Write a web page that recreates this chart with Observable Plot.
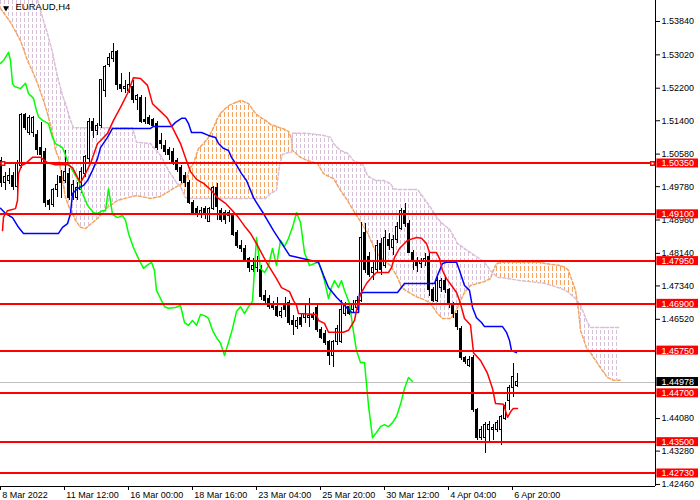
<!DOCTYPE html>
<html>
<head>
<meta charset="utf-8">
<script src="https://cdn.jsdelivr.net/npm/d3@7"></script>
<script src="https://cdn.jsdelivr.net/npm/@observablehq/plot@0.6"></script>
<style>
  body { margin: 0; background: #fff; }
</style>
</head>
<body>
<div id="chart"></div>
<script>
// EURAUD H4 - bar index on x (one bar = 4h), price on y

// candles: [open, high, low, close]
const ohlc = [
  [1.5042,1.5050,1.4976,1.4986],[1.4986,1.5013,1.4969,1.5001],[1.4993,1.5023,1.4983,1.5005],[1.5003,1.5013,1.4969,1.4976],
  [1.4976,1.5042,1.4951,1.5035],[1.5030,1.5158,1.5023,1.5153],[1.5153,1.5158,1.5116,1.5123],[1.5111,1.5153,1.5104,1.5148],
  [1.5109,1.5151,1.5099,1.5146],[1.5106,1.5116,1.5055,1.5067],[1.5072,1.5136,1.5035,1.5055],[1.5062,1.5072,1.4927,1.4937],
  [1.4942,1.4946,1.4919,1.4932],[1.4932,1.4974,1.4927,1.4969],[1.4969,1.5005,1.4951,1.4983],[1.5001,1.5018,1.4949,1.4986],
  [1.4993,1.5067,1.4986,1.5013],[1.5010,1.5023,1.4944,1.4951],[1.4954,1.4993,1.4944,1.4981],[1.4951,1.4988,1.4944,1.4974],
  [1.4969,1.5025,1.4961,1.5013],[1.5010,1.5055,1.5001,1.5050],[1.5047,1.5146,1.5037,1.5136],[1.5136,1.5146,1.5096,1.5116],
  [1.5116,1.5133,1.5104,1.5126],[1.5128,1.5241,1.5121,1.5239],[1.5214,1.5276,1.5197,1.5271],[1.5276,1.5305,1.5271,1.5295],
  [1.5293,1.5330,1.5283,1.5308],[1.5308,1.5313,1.5214,1.5227],[1.5229,1.5256,1.5209,1.5219],[1.5217,1.5239,1.5207,1.5222],
  [1.5214,1.5259,1.5207,1.5229],[1.5222,1.5239,1.5182,1.5190],[1.5190,1.5205,1.5165,1.5200],[1.5197,1.5202,1.5133,1.5138],
  [1.5143,1.5197,1.5131,1.5136],[1.5146,1.5153,1.5128,1.5133],[1.5141,1.5146,1.5123,1.5128],[1.5133,1.5138,1.5067,1.5074],
  [1.5091,1.5109,1.5069,1.5084],[1.5079,1.5091,1.5055,1.5062],[1.5067,1.5074,1.5042,1.5055],[1.5062,1.5072,1.5030,1.5037],
  [1.5040,1.5047,1.5013,1.5018],[1.5023,1.5030,1.4986,1.4993],[1.5005,1.5013,1.4976,1.4986],[1.4988,1.4993,1.4934,1.4939],
  [1.4939,1.4944,1.4912,1.4914],[1.4922,1.4929,1.4902,1.4914],[1.4912,1.4927,1.4900,1.4919],[1.4922,1.4929,1.4897,1.4910],
  [1.4892,1.4927,1.4890,1.4922],[1.4924,1.4978,1.4919,1.4974],[1.4974,1.4986,1.4895,1.4927],[1.4919,1.4924,1.4890,1.4895],
  [1.4914,1.4919,1.4885,1.4895],[1.4914,1.4919,1.4890,1.4905],[1.4905,1.4912,1.4855,1.4860],[1.4863,1.4870,1.4826,1.4831],
  [1.4831,1.4846,1.4816,1.4826],[1.4826,1.4833,1.4792,1.4797],[1.4799,1.4804,1.4767,1.4777],[1.4774,1.4801,1.4767,1.4782],
  [1.4777,1.4806,1.4767,1.4794],[1.4772,1.4784,1.4698,1.4706],[1.4710,1.4723,1.4691,1.4698],[1.4703,1.4710,1.4676,1.4681],
  [1.4686,1.4696,1.4674,1.4679],[1.4681,1.4705,1.4656,1.4661],[1.4661,1.4681,1.4654,1.4669],[1.4686,1.4705,1.4656,1.4674],
  [1.4691,1.4698,1.4637,1.4642],[1.4649,1.4661,1.4612,1.4637],[1.4632,1.4656,1.4627,1.4649],[1.4656,1.4666,1.4632,1.4637],
  [1.4654,1.4686,1.4642,1.4666],[1.4654,1.4703,1.4632,1.4661],[1.4661,1.4669,1.4649,1.4654],[1.4679,1.4686,1.4620,1.4625],
  [1.4625,1.4632,1.4602,1.4607],[1.4617,1.4625,1.4588,1.4593],[1.4595,1.4600,1.4538,1.4563],[1.4563,1.4600,1.4534,1.4595],
  [1.4595,1.4637,1.4588,1.4629],[1.4595,1.4698,1.4593,1.4674],[1.4666,1.4693,1.4659,1.4686],[1.4681,1.4688,1.4661,1.4666],
  [1.4674,1.4698,1.4669,1.4686],[1.4679,1.4708,1.4674,1.4698],[1.4698,1.4890,1.4693,1.4853],[1.4865,1.4887,1.4765,1.4772],
  [1.4804,1.4816,1.4755,1.4760],[1.4765,1.4792,1.4747,1.4779],[1.4772,1.4846,1.4767,1.4833],[1.4838,1.4851,1.4760,1.4772],
  [1.4784,1.4870,1.4777,1.4851],[1.4846,1.4863,1.4821,1.4831],[1.4828,1.4858,1.4809,1.4846],[1.4846,1.4890,1.4838,1.4878],
  [1.4875,1.4924,1.4870,1.4919],[1.4919,1.4937,1.4878,1.4887],[1.4887,1.4895,1.4814,1.4816],[1.4816,1.4821,1.4772,1.4792],
  [1.4792,1.4804,1.4767,1.4784],[1.4787,1.4801,1.4777,1.4792],[1.4792,1.4814,1.4782,1.4801],[1.4806,1.4816,1.4708,1.4723],
  [1.4723,1.4730,1.4693,1.4698],[1.4698,1.4755,1.4693,1.4747],[1.4728,1.4752,1.4718,1.4747],[1.4747,1.4755,1.4715,1.4723],
  [1.4723,1.4728,1.4679,1.4686],[1.4686,1.4693,1.4654,1.4666],[1.4666,1.4674,1.4625,1.4632],[1.4629,1.4634,1.4551,1.4556],
  [1.4556,1.4561,1.4541,1.4546],[1.4538,1.4561,1.4534,1.4553],[1.4556,1.4563,1.4423,1.4428],[1.4428,1.4433,1.4354,1.4359],
  [1.4359,1.4388,1.4354,1.4379],[1.4359,1.4398,1.4322,1.4391],[1.4379,1.4401,1.4352,1.4393],[1.4381,1.4393,1.4354,1.4386],
  [1.4379,1.4403,1.4374,1.4396],[1.4379,1.4415,1.4342,1.4411],[1.4408,1.4447,1.4403,1.4440],[1.4452,1.4489,1.4428,1.4484],
  [1.4482,1.4543,1.4460,1.4509],[1.4489,1.4519,1.4484,1.44978]
];

// ichimoku lines: [bar, price]
const tenkan = [
  [0.5,1.4870],[0.75,1.4903],[1.75,1.4919],[3.75,1.4924],[4.25,1.4944],[4.5,1.5010],[5.25,1.5030],[6.25,1.5035],[8,1.5050],[10,1.5050],
  [11.75,1.5037],[13.75,1.5032],[16.75,1.5032],[18,1.5025],[19.25,1.5001],[20,1.4988],[20.75,1.5001],[22.5,1.5035],[24.25,1.5084],[25,1.5091],
  [26.75,1.5109],[28.25,1.5141],[30,1.5173],[31.75,1.5207],[33.25,1.5246],[35,1.5244],[36.75,1.5227],[38,1.5182],[40,1.5163],[41.75,1.5146],
  [43.25,1.5118],[45,1.5084],[46.5,1.5042],[47.5,1.5015],[49,1.4996],[50.75,1.4986],[52.5,1.4971],[54.25,1.4951],[56.25,1.4937],[58,1.4919],
  [59.5,1.4902],[61.25,1.4878],[62.5,1.4863],[64,1.4838],[66.5,1.4792],[69,1.4752],[70.25,1.4730],[72.25,1.4720],[73.25,1.4698],[74,1.4686],
  [74.5,1.4666],[79,1.4664],[79.5,1.4649],[81,1.4642],[82,1.4620],[85.75,1.4620],[87,1.4625],[88.5,1.4649],[89,1.4674],[89.75,1.4706],
  [90.25,1.4718],[91.5,1.4740],[92.75,1.4755],[94,1.4767],[97,1.4767],[97.75,1.4779],[98.5,1.4804],[99.75,1.4826],[101.75,1.4846],[104,1.4853],
  [105.25,1.4851],[106.5,1.4838],[107.25,1.4816],[109,1.4816],[109.75,1.4801],[110.5,1.4772],[111.5,1.4752],[112.75,1.4735],[114,1.4718],[114.75,1.4698],
  [115.25,1.4681],[116,1.4654],[117.5,1.4638],[118.25,1.4570],[120,1.4551],[121.75,1.4519],[123,1.4482],[123.75,1.4445],[125.75,1.4443],[126.75,1.4411],
  [127.75,1.4428],[128.25,1.4433],[129.25,1.4433]
];

const kijun = [
  [0,1.4925],[1.25,1.4912],[3,1.4902],[4.5,1.4878],[5.75,1.4863],[14.5,1.4863],[15.5,1.4878],[16.75,1.4887],[17.5,1.4912],[18,1.4961],
  [19.25,1.4973],[20.75,1.4981],[21.75,1.4993],[23,1.5018],[24.25,1.5047],[25,1.5074],[26.75,1.5099],[28,1.5121],[37.5,1.5121],[38.25,1.5126],
  [42.75,1.5126],[43.75,1.5136],[45.25,1.5146],[46.25,1.5146],[47,1.5133],[47.75,1.5111],[50.25,1.5111],[52,1.5104],[53.75,1.5099],[54.5,1.5084],
  [55.75,1.5072],[57,1.5067],[57.75,1.5050],[58.75,1.5035],[60.25,1.5010],[61.5,1.4993],[63.25,1.4951],[64,1.4939],[65.75,1.4912],[68.25,1.4870],
  [72.25,1.4809],[79.5,1.4792],[80.75,1.4760],[82,1.4730],[84,1.4706],[86.5,1.4681],[87.75,1.4669],[89.5,1.4669],[89.75,1.4715],[90.75,1.4718],
  [99.25,1.4718],[101,1.4740],[108.5,1.4740],[109.25,1.4760],[110.5,1.4789],[111.5,1.4792],[114,1.4792],[114.75,1.4772],[116,1.4735],[117.25,1.4723],
  [118,1.4681],[119,1.4656],[120.25,1.4644],[121,1.4634],[125.5,1.4634],[126.5,1.4620],[127.25,1.4600],[127.75,1.4575],[129,1.4570]
];

const chikou = [
  [0,1.5281],[0.75,1.5288],[2,1.5308],[2.5,1.5288],[3,1.5232],[3.5,1.5224],[5,1.5219],[6.25,1.5232],[7,1.5207],[8.25,1.5195],
  [9,1.5165],[9.5,1.5150],[10.5,1.5141],[12,1.5133],[13,1.5099],[13.75,1.5084],[15.5,1.5074],[16.25,1.5055],[17,1.5035],[18,1.5018],
  [19.5,1.4993],[20.5,1.4961],[21.75,1.4932],[23.25,1.4914],[24.25,1.4912],[25.5,1.4919],[26.25,1.4919],[27,1.4973],[28,1.4910],[29.25,1.4902],
  [30.5,1.4907],[31.25,1.4895],[32,1.4863],[33.25,1.4828],[34.5,1.4801],[35.75,1.4777],[36.5,1.4784],[37.75,1.4792],[38.5,1.4772],[39,1.4723],
  [40,1.4703],[41,1.4683],[42,1.4679],[43.75,1.4681],[45,1.4686],[46,1.4644],[47,1.4637],[48,1.4649],[49,1.4637],[50,1.4664],
  [51,1.4661],[52,1.4654],[53,1.4625],[54,1.4607],[55,1.4593],[56,1.4563],[57,1.4595],[58,1.4629],[59,1.4671],[60,1.4683],
  [61,1.4666],[62,1.4683],[63,1.4696],[64,1.4853],[65,1.4777],[66,1.4767],[67,1.4784],[68,1.4826],[69,1.4784],[70,1.4846],
  [71,1.4831],[72,1.4851],[73,1.4878],[74,1.4914],[75,1.4890],[76,1.4816],[77.25,1.4784],[78.5,1.4789],[79.5,1.4792],[80.25,1.4772],
  [81,1.4747],[82,1.4703],[82.75,1.4730],[83.5,1.4747],[84.5,1.4730],[85.25,1.4747],[86,1.4723],[87.25,1.4691],[88,1.4637],[89,1.4575],
  [90,1.4546],[91,1.4546],[92,1.4440],[93,1.4361],[94,1.4374],[95,1.4388],[96,1.4393],[97,1.4388],[98,1.4398],[99,1.4413],
  [100,1.4443],[101,1.4482],[102,1.4509],[103,1.4499]
];

// kumo: [bar, senkou A, senkou B]
const kumo = [
  [0,1.5416,1.5583],[2.5,1.5382,1.5546],[5,1.5337,1.5509],[6.75,1.5288,1.5480],[8.25,1.5256,1.5455],[9.25,1.5232,1.5436],
  [10.75,1.5190,1.5386],[11.75,1.5158,1.5354],[13,1.5109,1.5308],[13.75,1.5067,1.5271],[14.5,1.5050,1.5239],[15.5,1.4993,1.5202],
  [16.25,1.4951,1.5182],[17.5,1.4919,1.5141],[18.25,1.4907,1.5123],[18.75,1.4895,1.5123],[20,1.4878,1.5123],
  [21.25,1.4875,1.5123],[24.25,1.4900,1.5123],[26.75,1.4927,1.5123],[29.25,1.4944,1.5123],[31.75,1.4951,1.5123],[33,1.4954,1.5123],
  [34,1.4956,1.5087],[37.5,1.4949,1.5084],[40,1.4954,1.5055],[42,1.4966,1.5018],[44,1.4978,1.4988],[45,1.4983,1.4978],
  [46.25,1.4993,1.4951],[47.5,1.5025,1.4949],[48.25,1.5035,1.4949],[49.5,1.5072,1.4949],[50.75,1.5084,1.4949],[52,1.5099,1.4949],
  [53.25,1.5123,1.4949],[54,1.5141,1.4949],[55,1.5158,1.4949],[56.25,1.5170,1.4949],[57,1.5177,1.4949],[58.75,1.5185,1.4949],
  [60.25,1.5190,1.4949],[62,1.5182,1.4949],[63.75,1.5158,1.4949],[65,1.5148,1.4949],[66.25,1.5141,1.4949],[67.5,1.5131,1.4961],
  [69,1.5126,1.4969],[69.75,1.5123,1.5030],[70.5,1.5121,1.5057],[72,1.5114,1.5062],[72.75,1.5096,1.5062],[73,1.5067,1.5109],
  [75,1.5050,1.5109],[76.75,1.5042,1.5109],[79.25,1.5035,1.5106],[80.75,1.5010,1.5104],[82.5,1.5001,1.5099],[83.25,1.4998,1.5084],
  [85,1.4969,1.5067],[86.75,1.4944,1.5060],[88.25,1.4919,1.5042],[89.5,1.4900,1.5037],[90.75,1.4880,1.5030],[91.75,1.4865,1.5005],
  [93.75,1.4819,1.4993],[95.75,1.4797,1.4993],[97.5,1.4784,1.4986],[98.25,1.4772,1.4973],[99.25,1.4755,1.4971],[100.25,1.4730,1.4971],
  [101.25,1.4723,1.4971],[104.25,1.4706,1.4971],[105.75,1.4701,1.4951],[107.5,1.4691,1.4927],[109.25,1.4666,1.4900],
  [110.5,1.4654,1.4887],[112.25,1.4654,1.4873],[112.75,1.4656,1.4865],[113.5,1.4666,1.4853],[114.25,1.4681,1.4838],[115,1.4698,1.4833],
  [116,1.4718,1.4826],[117.5,1.4735,1.4816],[119.25,1.4740,1.4804],[121,1.4745,1.4792],[122.5,1.4752,1.4772],[123,1.4767,1.4767],
  [123.75,1.4784,1.4760],[124.25,1.4789,1.4755],[125,1.4792,1.4755],[130,1.4792,1.4747],[135,1.4792,1.4742],[136.25,1.4789,1.4740],
  [140,1.4784,1.4728],[141.25,1.4779,1.4723],[142,1.4772,1.4718],[143.75,1.4723,1.4703],[144.5,1.4674,1.4693],[145,1.4625,1.4686],
  [146.75,1.4575,1.4644],[147.5,1.4570,1.4632],[148.25,1.4558,1.4632],[150,1.4533,1.4632],[151.75,1.4509,1.4632],[153.25,1.4502,1.4632],
  [155,1.4502,1.4632]
];

// horizontal levels and last price
const levels = [1.50350, 1.49100, 1.47950, 1.46900, 1.45750, 1.44700, 1.43500, 1.42730];
const lastPrice = 1.44978;
const handleBars = [0.6, 163];

// axes
const yTicks = [1.53840, 1.53020, 1.52200, 1.51400, 1.50580, 1.49780, 1.48960, 1.48140,
                1.47340, 1.46520, 1.44080, 1.43280, 1.42460];
const xTicks = [0, 16, 32, 48, 64, 80, 96, 112, 128];
const xLabels = ["8 Mar 2022", "11 Mar 12:00", "16 Mar 00:00", "18 Mar 16:00", "23 Mar 04:00",
                 "25 Mar 20:00", "30 Mar 12:00", "4 Apr 04:00", "6 Apr 20:00"];

const xMax = 163.75, yLo = 1.42410, yHi = 1.54356;

const candles = ohlc.map(([o, h, l, c], i) => ({i, o, h, l, c}));
const cloud = kumo.map(([x, a, b]) => ({x, a, b, top: Math.max(a, b)}));
const xLabelOf = new Map(xTicks.map((t, k) => [t, "\u2009" + xLabels[k]]));

const chart = Plot.plot({
  width: 700,
  height: 500,
  marginLeft: 0,
  marginRight: 45,
  marginTop: 0,
  marginBottom: 14,
  x: { domain: [0, xMax] },
  y: { domain: [yLo, yHi] },
  style: {
    background: "white",
    color: "black",
    fontFamily: "'Liberation Sans', Arial, sans-serif",
    fontSize: "9px",
  },
  marks: [
    // kumo hatching
    Plot.areaY(cloud, { x: "x", y1: "a", y2: "top", fill: "url(#hatchPlum)", clip: true }),
    Plot.areaY(cloud, { x: "x", y1: "b", y2: "top", fill: "url(#hatchSand)", clip: true }),
    Plot.line(cloud, { x: "x", y: "a", stroke: "#f4a460", strokeDasharray: "3,2", clip: true }),
    Plot.line(cloud, { x: "x", y: "b", stroke: "#d8bfd8", strokeDasharray: "3,2", clip: true }),

    Plot.ruleY([lastPrice], { stroke: "#c0c0c0", shapeRendering: "crispEdges" }),

    // candles
    Plot.ruleX(candles, { x: "i", y1: "l", y2: "h", stroke: "black", dx: 0.5, shapeRendering: "crispEdges" }),
    Plot.rect(candles, {
      x1: "i", x2: "i", y1: "o", y2: "c",
      insetLeft: -0.5, insetRight: -1.5,
      fill: d => d.c >= d.o ? "white" : "black",
      stroke: "black", shapeRendering: "crispEdges"
    }),

    // ichimoku lines
    Plot.line(chikou, { x: d => d[0], y: d => d[1], stroke: "#00ff00" }),
    Plot.line(kijun, { x: d => d[0], y: d => d[1], stroke: "#0000ff" }),
    Plot.line(tenkan, { x: d => d[0], y: d => d[1], stroke: "#ff0000" }),

    // levels
    Plot.ruleY(levels, { stroke: "#ff0000", strokeWidth: 2, shapeRendering: "crispEdges" }),
    Plot.dot(handleBars, { x: d => d, y: () => levels[0], symbol: "square", r: 2, stroke: "#ff0000", strokeWidth: 1.5, fill: "white" }),

    // frame lines
    Plot.ruleX([xMax], { stroke: "black", shapeRendering: "crispEdges" }),
    Plot.ruleY([yLo], { stroke: "black", shapeRendering: "crispEdges" }),

    Plot.axisY({ anchor: "right", ticks: yTicks, tickFormat: d => d.toFixed(5), tickSize: 4, tickPadding: 2, label: null }),
    Plot.axisX({ ticks: xTicks, tickFormat: d => xLabelOf.get(d), tickSize: 4, tickPadding: 1, textAnchor: "start", label: null }),

    // price labels on the scale
    Plot.rect(levels, { x1: () => xMax + 0.35, x2: () => xMax + 10.75, y1: d => d, y2: d => d, insetTop: -4.5, insetBottom: -4.5, fill: "#ff0000" }),
    Plot.text(levels, { x: () => xMax, y: d => d, text: d => d.toFixed(5), dx: 6, textAnchor: "start", fill: "white" }),
    Plot.rect([lastPrice], { x1: () => xMax + 0.35, x2: () => xMax + 10.75, y1: d => d, y2: d => d, insetTop: -4.5, insetBottom: -4.5, fill: "black" }),
    Plot.text([lastPrice], { x: () => xMax, y: d => d, text: d => d.toFixed(5), dx: 6, textAnchor: "start", fill: "white" }),

    // symbol caption
    Plot.dot([0], { frameAnchor: "top-left", dx: 5.5, dy: 7.5, symbol: "triangle", rotate: 180, r: 2.2, fill: "black" }),
    Plot.text(["EURAUD,H4"], { frameAnchor: "top-left", dx: 15, dy: 3, lineAnchor: "top", textAnchor: "start", fontSize: 9.5 }),
  ]
});

// vertical dotted hatching for the cloud
const defs = d3.select(chart).insert("defs", ":first-child");
[["hatchPlum", "#d8bfd8", 6, 4], ["hatchSand", "#f4a460", 7, 5]].forEach(([id, col, period, dash]) => {
  defs.append("pattern")
    .attr("id", id)
    .attr("patternUnits", "userSpaceOnUse")
    .attr("width", 4)
    .attr("height", period)
    .append("rect")
    .attr("x", 0).attr("y", 0)
    .attr("width", 1).attr("height", dash)
    .attr("fill", col);
});

d3.select("#chart").append(() => chart);
</script>
</body>
</html>
